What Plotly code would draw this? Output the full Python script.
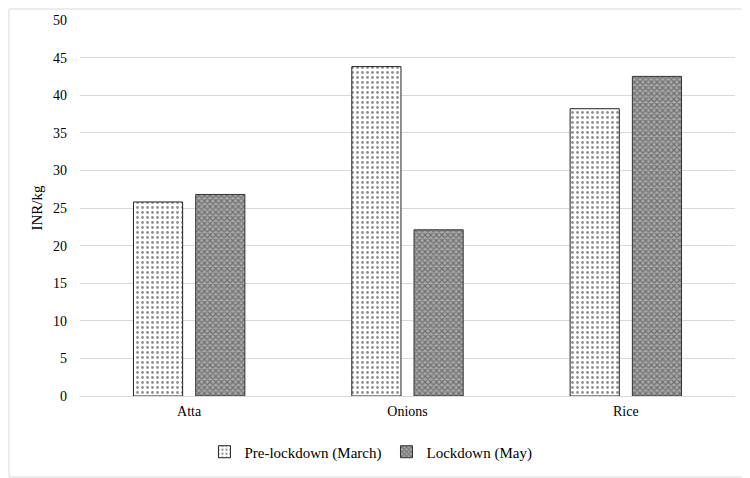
import plotly.graph_objects as go

CATEGORIES = ["Atta", "Onions", "Rice"]
PRE_LOCKDOWN = [25.8, 43.8, 38.2]
LOCKDOWN = [26.8, 22.1, 42.5]

FONT = "Liberation Serif, Times New Roman, serif"
GRID = "#d9d9d9"

# page body adds an 8px offset, so the figure is a bit smaller than the window
W, H = 742, 470
ML, MR, MT, MB = 72, 15, 12, 82
PW, PH = W - ML - MR, H - MT - MB

fig = go.Figure()
fig.add_trace(
    go.Bar(
        x=CATEGORIES,
        y=PRE_LOCKDOWN,
        name="Pre-lockdown (March)",
        marker=dict(
            color="white",
            line=dict(color="#222222", width=1),
            pattern=dict(shape=".", fgcolor="#222222", bgcolor="white", size=5, solidity=0.25),
        ),
    )
)
fig.add_trace(
    go.Bar(
        x=CATEGORIES,
        y=LOCKDOWN,
        name="Lockdown (May)",
        marker=dict(
            color="#555555",
            line=dict(color="#333333", width=1),
            pattern=dict(shape="x", fgcolor="#333333", bgcolor="#aaaaaa", size=4, solidity=0.5),
        ),
    )
)

fig.update_layout(
    width=W,
    height=H,
    paper_bgcolor="white",
    plot_bgcolor="white",
    font=dict(family=FONT, size=14, color="#000000"),
    margin=dict(l=ML, r=MR, t=MT, b=MB, autoexpand=False),
    barmode="group",
    bargap=0.43,
    bargroupgap=0.21,
    showlegend=True,
    legend=dict(
        orientation="h",
        x=0.19,
        xanchor="left",
        y=-0.105,
        yanchor="top",
        font=dict(size=15),
        itemwidth=30,
    ),
    xaxis=dict(
        showgrid=False, showline=False, ticks="", automargin=False,
        ticklabelstandoff=5, tickfont=dict(size=14),
    ),
    yaxis=dict(
        range=[0, 50],
        dtick=5,
        gridcolor=GRID,
        gridwidth=1,
        zeroline=True,
        zerolinecolor=GRID,
        zerolinewidth=1,
        showline=False,
        ticks="",
        automargin=False,
        ticklabelstandoff=12,
        tickfont=dict(size=14),
        title=dict(text="INR/kg", font=dict(size=15), standoff=6),
    ),
    shapes=[
        dict(
            type="rect",
            xref="paper",
            yref="paper",
            x0=-(ML - 1) / PW,
            x1=1 + (MR - 1) / PW,
            y0=-(MB - 1) / PH,
            y1=1 + (MT - 1) / PH,
            line=dict(color="#d9d9d9", width=1),
        )
    ],
)

fig.write_html("out.html")
